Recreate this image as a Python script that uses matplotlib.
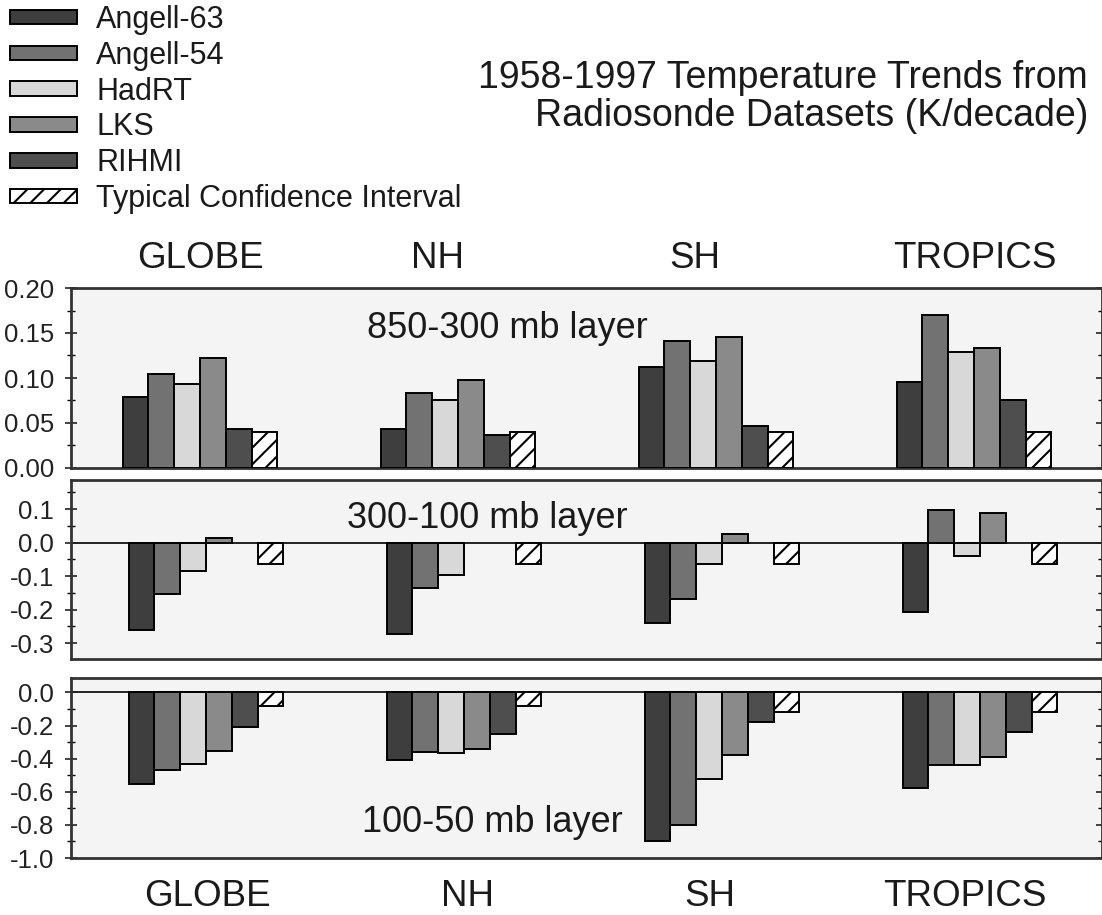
import numpy as np
import matplotlib.pyplot as plt
from matplotlib.ticker import MultipleLocator, FormatStrFormatter

plt.rcParams['font.family'] = ['Liberation Sans', 'DejaVu Sans']
plt.rcParams['axes.unicode_minus'] = False
plt.rcParams['hatch.linewidth'] = 1.5

regions = ["GLOBE", "NH", "SH", "TROPICS"]
datasets = ["Angell-63", "Angell-54", "HadRT", "LKS", "RIHMI", "Typical Confidence Interval"]

# rows follow datasets, columns follow regions (K/decade)
trends_850_300 = [
    [0.079, 0.043, 0.112, 0.095],
    [0.105, 0.083, 0.141, 0.170],
    [0.093, 0.076, 0.119, 0.129],
    [0.122, 0.098, 0.146, 0.133],
    [0.043, 0.037, 0.047, 0.076],
    [0.040, 0.040, 0.040, 0.040],
]
trends_300_100 = [
    [-0.259, -0.273, -0.239, -0.206],
    [-0.154, -0.136, -0.168, 0.098],
    [-0.084, -0.096, -0.065, -0.040],
    [0.015, np.nan, 0.025, 0.090],
    [np.nan, np.nan, np.nan, np.nan],
    [-0.065, -0.065, -0.065, -0.065],
]
trends_100_50 = [
    [-0.551, -0.406, -0.896, -0.577],
    [-0.471, -0.362, -0.803, -0.437],
    [-0.433, -0.366, -0.523, -0.437],
    [-0.352, -0.340, -0.380, -0.393],
    [-0.209, -0.249, -0.181, -0.238],
    [-0.080, -0.080, -0.121, -0.121],
]
layer_names = ["850-300 mb layer", "300-100 mb layer", "100-50 mb layer"]

colors = ["#3e3e3e", "#727272", "#d8d8d8", "#8a8a8a", "#4e4e4e", "white"]
hatches = [None, None, None, None, None, "//"]

W, H = 1102, 915
fig = plt.figure(figsize=(W / 100, H / 100), dpi=100)

def fx(px):
    return px / W

def fy(py):
    return 1 - py / H

# layout in pixels: top, bottom, ylim, major, minor, format, label pos, x shift
panels = [
    (288, 468, (0.0, 0.20), 0.05, 0.025, "%.2f", (507, 328), 0),
    (480, 659, (-0.347, 0.187), 0.1, 0.05, "%.1f", (487, 519), 6),
    (678, 858, (-1.0, 0.087), 0.2, 0.1, "%.1f", (492, 823), 6),
]
all_trends = [trends_850_300, trends_300_100, trends_100_50]

x = np.arange(len(regions))
width = 0.1
spacing = 258.0
left_px = 71
for k, (top, bot, ylim, step, minor, fmt, lab, shift) in enumerate(panels):
    ax = fig.add_axes([fx(left_px), fy(bot), fx(W - left_px), (bot - top) / H])
    ax.set_facecolor("#f4f4f4")
    for j, name in enumerate(datasets):
        ax.bar(x + (j - 2.5) * width, all_trends[k][j], width,
               color=colors[j], edgecolor="black", linewidth=1.4,
               hatch=hatches[j], label=name, zorder=3)
    if k > 0:
        ax.axhline(0, color="#222222", lw=1.4, zorder=2)
    x0 = -(200 + shift - left_px) / spacing
    ax.set_xlim(x0, x0 + (W - left_px) / spacing)
    ax.set_ylim(*ylim)
    ax.yaxis.set_major_locator(MultipleLocator(step))
    ax.yaxis.set_minor_locator(MultipleLocator(minor))
    ax.yaxis.set_major_formatter(FormatStrFormatter(fmt))
    ax.tick_params(axis="y", direction="inout", right=True, labelsize=18.5,
                   length=8, width=1.2, pad=8, colors="#222222")
    ax.tick_params(axis="y", which="minor", direction="inout", right=True,
                   length=6, width=1)
    ax.set_xticks(x)
    ax.set_xticklabels([])
    ax.tick_params(axis="x", length=0)
    for s in ax.spines.values():
        s.set_color("#333333")
        s.set_linewidth(2)
    fig.text(fx(lab[0]), fy(lab[1]), layer_names[k], fontsize=26,
             ha="center", va="center", color="#1a1a1a")
    if k == 0:
        handles, labels = ax.get_legend_handles_labels()

top_label_px = [200, 437, 695, 975]
bottom_label_px = [207, 468, 710, 965]
for name, px_top, px_bot in zip(regions, top_label_px, bottom_label_px):
    fig.text(fx(px_top), fy(258), name, fontsize=26.5, ha="center", va="center",
             color="#1a1a1a")
    fig.text(fx(px_bot), fy(897), name, fontsize=26.5, ha="center", va="center",
             color="#1a1a1a")

fig.legend(handles, labels, loc="upper left", bbox_to_anchor=(fx(10), fy(5)),
           frameon=False, fontsize=22, handlelength=2.2, handleheight=0.36,
           handletextpad=0.62, labelspacing=0.19, borderpad=0, borderaxespad=0,
           labelcolor="#1a1a1a")

fig.text(fx(1088), fy(97), "1958-1997 Temperature Trends from\nRadiosonde Datasets (K/decade)",
         fontsize=27, ha="right", va="center", multialignment="right",
         linespacing=1.08, color="#1a1a1a")

fig.savefig("out.png", dpi=100, facecolor="white")
